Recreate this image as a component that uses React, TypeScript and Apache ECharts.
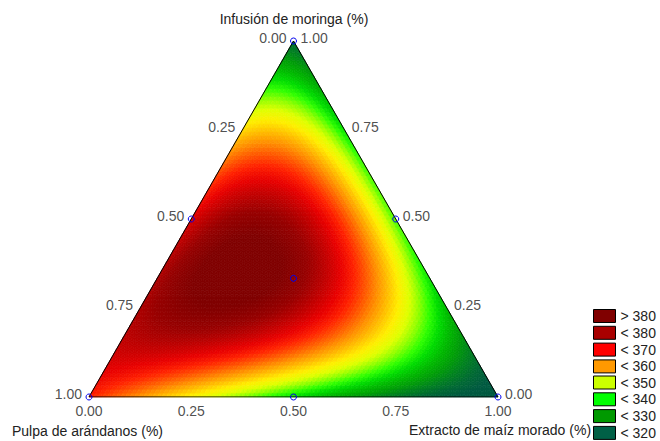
import React, { useEffect, useRef } from "react";
import * as echarts from "echarts";

// Component names (vertex order: Pulpa = left, Moringa = top, Extracto = right)
const componentTitles = ["Pulpa de arándanos (%)", "Infusión de moringa (%)", "Extracto de maíz morado (%)"];

// Simplex-centroid design points (fractions) and responses
const designP = [1, 0, 0, 0.5, 0.5, 0, 1 / 3];
const designM = [0, 1, 0, 0.5, 0, 0.5, 1 / 3];
const designE = [0, 0, 1, 0, 0.5, 0.5, 1 / 3];
const designY = [368, 320, 311, 373, 336, 341, 382];

// Axis ticks
const tickValues = [0, 0.25, 0.5, 0.75, 1];

// Legend classes
const legendLabels = ["> 380", "< 380", "< 370", "< 360", "< 350", "< 340", "< 330", "< 320"];
const legendColors = ["#800000", "#a80000", "#ff0000", "#ff9900", "#ccff00", "#00ff00", "#009900", "#006046"];

// Continuous colour scale of the surface (evenly spaced from colorMin to colorMax)
const colorMin = 316;
const colorMax = 384;
const colorStops = [
  "#005a40", "#006834", "#008020", "#009c08", "#00b800", "#00dc00", "#30ff00", "#90ff00", "#e0ff00",
  "#ffee00", "#ffc000", "#ff9000", "#ff5800", "#ff2000", "#e80000", "#c00000", "#980000", "#800000",
];

const FONT = 'Arial, "Liberation Sans", sans-serif';
const TEXT_COLOR = "#222";

// Scheffé special cubic model fitted exactly through the 7 design responses
function modelCoefficients(y: number[]) {
  const [y1, y2, y3, y12, y13, y23, y123] = y;
  return {
    b1: y1,
    b2: y2,
    b3: y3,
    b12: 4 * y12 - 2 * (y1 + y2),
    b13: 4 * y13 - 2 * (y1 + y3),
    b23: 4 * y23 - 2 * (y2 + y3),
    b123: 27 * y123 - 12 * (y12 + y13 + y23) + 3 * (y1 + y2 + y3),
  };
}

function toXY(M: number, E: number): [number, number] {
  return [E + M / 2, M];
}

function buildSurface(n: number) {
  const c = modelCoefficients(designY);
  const f = (P: number, M: number, E: number) =>
    c.b1 * P + c.b2 * M + c.b3 * E + c.b12 * P * M + c.b13 * P * E + c.b23 * M * E + c.b123 * P * M * E;
  const out: number[][] = [];
  const tri = (pts: [number, number][]) => {
    // pts are (E, M) fractions
    const Ec = (pts[0][0] + pts[1][0] + pts[2][0]) / 3;
    const Mc = (pts[0][1] + pts[1][1] + pts[2][1]) / 3;
    const Pc = 1 - Ec - Mc;
    const v = f(Pc, Mc, Ec);
    const c0 = toXY(Mc, Ec);
    const row = [c0[0], c0[1], v];
    for (const p of pts) {
      const xy = toXY(p[1], p[0]);
      row.push(xy[0], xy[1]);
    }
    out.push(row);
  };
  for (let a = 0; a < n; a++) {
    for (let b = 0; a + b < n; b++) {
      tri([
        [a / n, b / n],
        [(a + 1) / n, b / n],
        [a / n, (b + 1) / n],
      ]);
      if (a + b < n - 1) {
        tri([
          [(a + 1) / n, b / n],
          [a / n, (b + 1) / n],
          [(a + 1) / n, (b + 1) / n],
        ]);
      }
    }
  }
  return out;
}

export default function App() {
  const ref = useRef<HTMLDivElement>(null);

  useEffect(() => {
    if (!ref.current) return;
    const chart = echarts.init(ref.current, undefined, { renderer: "svg" });

    const surface = buildSurface(90);
    const designData = designP.map((_, i) => toXY(designM[i], designE[i]));

    const labelBase = {
      show: true,
      formatter: "{b}",
      fontSize: 14,
      fontFamily: FONT,
      color: TEXT_COLOR,
    };

    // Left edge: Pulpa fraction t (0 at top, 1 at bottom-left)
    const leftTicks = tickValues.map((t) => ({ name: t.toFixed(2), value: toXY(1 - t, 0) }));
    // Right edge: Moringa fraction t
    const rightTicks = tickValues.map((t) => ({ name: t.toFixed(2), value: toXY(t, 1 - t) }));
    // Bottom edge: Extracto fraction t
    const bottomTicks = tickValues.map((t) => ({ name: t.toFixed(2), value: toXY(0, t) }));

    const legendBase = {
      orient: "vertical",
      left: 593,
      height: 120,
      padding: 0,
      itemWidth: 22,
      itemHeight: 13,
      itemGap: 2.8,
      icon: "rect",
      selectedMode: false,
      itemStyle: { borderColor: "#000", borderWidth: 1, opacity: 1 },
      textStyle: { fontSize: 14, fontFamily: FONT, color: TEXT_COLOR, lineHeight: 13 },
    };

    const option: any = {
      animation: false,
      grid: { left: 89, top: 41, width: 409, height: 356, containLabel: false },
      xAxis: { type: "value", min: 0, max: 1, show: false },
      yAxis: { type: "value", min: 0, max: 1, show: false },
      visualMap: {
        type: "continuous",
        show: false,
        seriesIndex: 0,
        dimension: 2,
        min: colorMin,
        max: colorMax,
        inRange: { color: colorStops },
      },
      legend: [
        { ...legendBase, top: 309, data: legendLabels.slice(0, 4) },
        { ...legendBase, top: 375.5, data: legendLabels.slice(4) },
      ],
      graphic: [
        {
          type: "text",
          x: 294,
          y: 19,
          style: { text: componentTitles[1], font: `14px ${FONT}`, fill: TEXT_COLOR, align: "center", verticalAlign: "middle" },
        },
        {
          type: "text",
          x: 12,
          y: 431,
          style: { text: componentTitles[0], font: `14px ${FONT}`, fill: TEXT_COLOR, align: "left", verticalAlign: "middle" },
        },
        {
          type: "text",
          x: 409,
          y: 430,
          style: { text: componentTitles[2], font: `14px ${FONT}`, fill: TEXT_COLOR, align: "left", verticalAlign: "middle" },
        },
      ],
      series: [
        {
          type: "custom",
          silent: true,
          data: surface,
          encode: { x: 0, y: 1 },
          renderItem: (_params: any, api: any) => {
            const pts = [];
            for (let k = 0; k < 3; k++) {
              pts.push(api.coord([api.value(3 + 2 * k), api.value(4 + 2 * k)]));
            }
            const col = api.visual("color");
            return {
              type: "polygon",
              shape: { points: pts },
              style: { fill: col, stroke: col, lineWidth: 0.7, opacity: 1 },
              silent: true,
            };
          },
          z: 1,
        },
        {
          type: "line",
          data: [toXY(0, 0), toXY(1, 0), toXY(0, 1), toXY(0, 0)],
          symbol: "none",
          lineStyle: { color: "#000", width: 1 },
          silent: true,
          z: 3,
        },
        {
          type: "scatter",
          data: designData,
          symbol: "circle",
          symbolSize: 6,
          itemStyle: { color: "rgba(0,0,0,0)", borderColor: "#0000ee", borderWidth: 1, opacity: 1 },
          silent: true,
          z: 4,
        },
        {
          type: "scatter",
          data: leftTicks,
          symbolSize: 0,
          silent: true,
          label: { ...labelBase, position: "left", distance: 7, offset: [0, -3] },
          z: 5,
        },
        {
          type: "scatter",
          data: rightTicks,
          symbolSize: 0,
          silent: true,
          label: { ...labelBase, position: "right", distance: 7, offset: [0, -3] },
          z: 5,
        },
        {
          type: "scatter",
          data: bottomTicks,
          symbolSize: 0,
          silent: true,
          label: { ...labelBase, position: "bottom", distance: 7 },
          z: 5,
        },
        ...legendLabels.map((name, i) => ({
          type: "scatter",
          name,
          data: [],
          itemStyle: { color: legendColors[i], opacity: 1 },
        })),
      ],
    };

    chart.setOption(option);
    return () => chart.dispose();
  }, []);

  return <div ref={ref} style={{ position: "absolute", left: 0, top: 0, width: 660, height: 441 }} />;
}
